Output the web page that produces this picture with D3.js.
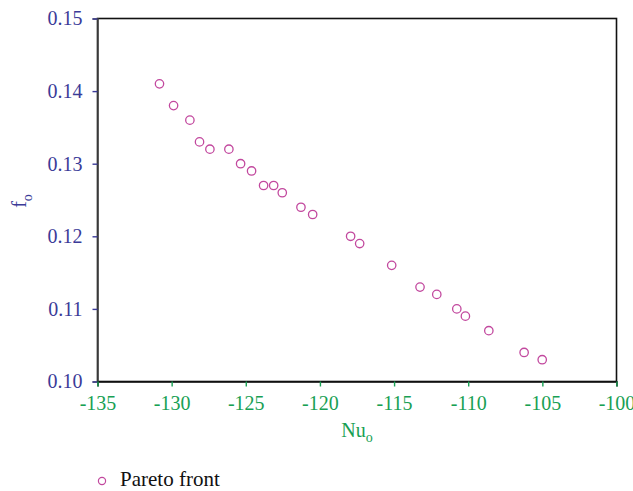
<!DOCTYPE html>
<html>
<head>
<meta charset="utf-8">
<script src="https://cdn.jsdelivr.net/npm/d3@7"></script>
<style>
  body { margin: 0; background: #fff; }
  svg { display: block; font-family: "Liberation Serif", "DejaVu Serif", serif; }
</style>
</head>
<body>
<script>
// Pareto front points (Nu_o, f_o)
var nuValues = [-130.82, -129.87, -128.77, -128.12, -127.42, -126.14, -125.35, -124.61,
                -123.80, -123.12, -122.54, -121.28, -120.49, -117.93, -117.32, -115.16,
                -113.25, -112.12, -110.77, -110.19, -108.61, -106.23, -105.01];
var fValues = [0.141, 0.138, 0.136, 0.133, 0.132, 0.132, 0.130, 0.129,
               0.127, 0.127, 0.126, 0.124, 0.123, 0.120, 0.119, 0.116,
               0.113, 0.112, 0.110, 0.109, 0.107, 0.104, 0.103];
var xTicks = [-135, -130, -125, -120, -115, -110, -105, -100];
var yTicks = [0.10, 0.11, 0.12, 0.13, 0.14, 0.15];
var legendLabel = "Pareto front";

var W = 633, H = 491;
var margin = {top: 18.5, right: 16.5, bottom: 109.5, left: 97.5};
var width = W - margin.left - margin.right,
    height = H - margin.top - margin.bottom;

var blue = "#3b3b98", green = "#18a054", pink = "#c2489e";
var font = "'Liberation Serif', 'DejaVu Serif', serif";

var svg = d3.select("body").append("svg")
    .attr("width", W)
    .attr("height", H);

var g = svg.append("g")
    .attr("transform", "translate(" + margin.left + "," + margin.top + ")");

var x = d3.scaleLinear().domain([-135, -100]).range([0, width]);
var y = d3.scaleLinear().domain([0.10, 0.15]).range([height, 0]);

// frame
g.append("rect")
    .attr("width", width)
    .attr("height", height)
    .attr("fill", "none")
    .attr("stroke", "#111")
    .attr("stroke-width", 1.6);

// y axis
var yAxis = d3.axisLeft(y)
    .tickValues(yTicks)
    .tickSize(5)
    .tickPadding(10)
    .tickFormat(d3.format(".2f"));
var gy = g.append("g").call(yAxis);
gy.select(".domain").attr("stroke", "#444").attr("stroke-width", 1.6);
gy.selectAll(".tick line").attr("stroke", blue).attr("stroke-width", 1.4);
gy.selectAll(".tick text")
    .attr("fill", blue)
    .style("font-size", "20px")
    .style("font-family", font);

// x axis
var xAxis = d3.axisBottom(x)
    .tickValues(xTicks)
    .tickSize(5)
    .tickPadding(9)
    .tickFormat(d3.format("d"));
var gx = g.append("g")
    .attr("transform", "translate(0," + height + ")")
    .call(xAxis);
gx.select(".domain").attr("stroke", "#111").attr("stroke-width", 1.6);
gx.selectAll(".tick line").attr("stroke", green).attr("stroke-width", 1.4);
gx.selectAll(".tick text")
    .attr("fill", green)
    .style("font-size", "20px")
    .style("font-family", font)
    .text(function(d) { return "-" + Math.abs(d); });

// axis labels
var xl = g.append("text")
    .attr("x", width / 2)
    .attr("y", height + 55.5)
    .attr("text-anchor", "middle")
    .attr("fill", green)
    .style("font-size", "20px");
xl.append("tspan").text("Nu");
xl.append("tspan").attr("dy", 4.5).style("font-size", "14px").text("o");

var yl = g.append("text")
    .attr("transform", "translate(" + (-71.5) + "," + (height / 2 + 1) + ") rotate(-90)")
    .attr("text-anchor", "middle")
    .attr("fill", blue)
    .style("font-size", "20px");
yl.append("tspan").text("f");
yl.append("tspan").attr("dy", 5.5).style("font-size", "14px").text("o");

// points
var pts = nuValues.map(function(v, i) { return {nu: v, f: fValues[i]}; });
g.selectAll("circle.pt")
    .data(pts)
    .enter()
    .append("circle")
    .attr("class", "pt")
    .attr("cx", function(d) { return x(d.nu); })
    .attr("cy", function(d) { return y(d.f); })
    .attr("r", 4.2)
    .attr("fill", "none")
    .attr("stroke", pink)
    .attr("stroke-width", 1.3);

// legend
var lg = svg.append("g").attr("transform", "translate(102,481)");
lg.append("circle")
    .attr("r", 3.6)
    .attr("fill", "none")
    .attr("stroke", pink)
    .attr("stroke-width", 1.2);
lg.append("text")
    .attr("x", 18)
    .attr("y", 5)
    .attr("fill", "#111")
    .style("font-size", "21px")
    .text(legendLabel);
</script>
</body>
</html>
